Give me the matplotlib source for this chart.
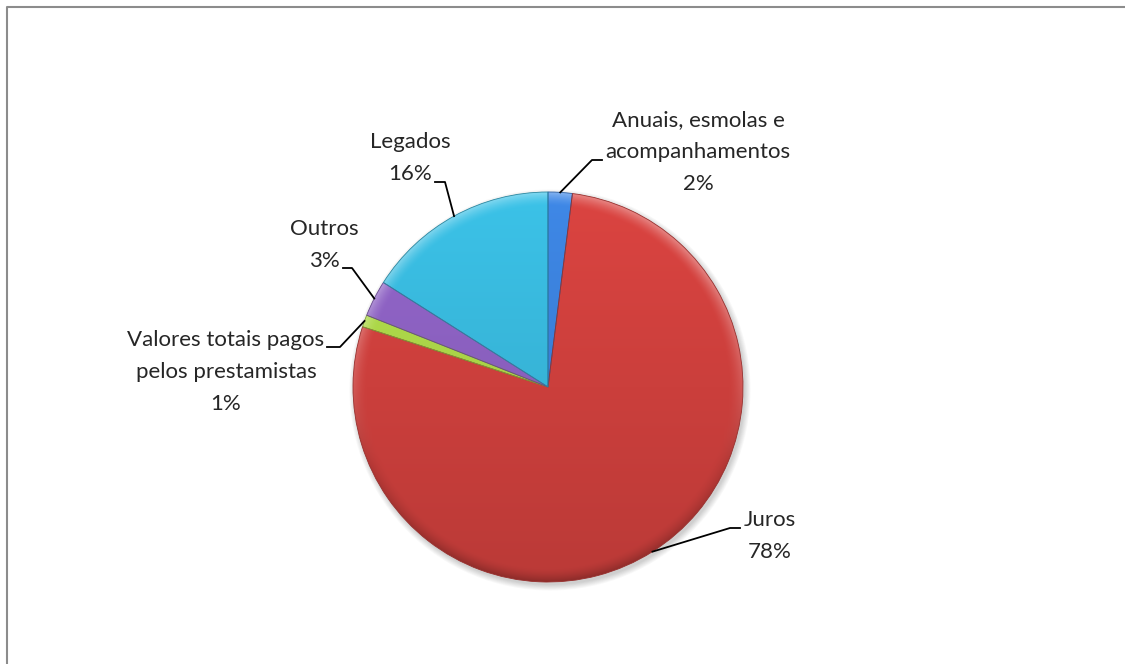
import numpy as np
import matplotlib.pyplot as plt
from matplotlib.colors import to_rgb
from matplotlib.patches import Circle
from matplotlib.lines import Line2D

plt.rcParams['font.family'] = ['Lato', 'DejaVu Sans']

# Dados
categorias = ['Anuais, esmolas e\nacompanhamentos', 'Juros',
              'Valores totais pagos\npelos prestamistas', 'Outros', 'Legados']
percentagens = [2, 78, 1, 3, 16]
cores = ['#3A7ED6', '#CB3F3C', '#A8D247', '#895FBD', '#37B4D7']

# Posição dos rótulos (px, y a partir do topo): texto, cotovelo e fim da linha
pos_texto = [(698, 152), (770, 536), (226, 372), (324, 245), (410, 158)]
cotovelo = [(592, 160), (730, 528), (340, 347), (352, 268), (445, 182)]
fim_linha = [(602, 160), (740, 528), (327, 347), (343, 268), (435, 182)]

W, H = 1125, 664
cx, cy, r = 548, H - 387, 195

fig = plt.figure(figsize=(W / 100, H / 100), dpi=100)
ax = fig.add_axes([0, 0, 1, 1])

# Sombra suave por baixo do gráfico
for k in range(8):
    ax.add_patch(Circle((cx + 2, cy - 3), r + k * 0.8, color='black',
                        alpha=0.025, lw=0, zorder=0))

wedges, _ = ax.pie(percentagens, colors=cores, startangle=90, counterclock=False,
                   center=(cx, cy), radius=r,
                   wedgeprops=dict(linewidth=0.6, zorder=1))
ax.set_xlim(0, W)
ax.set_ylim(0, H)
ax.axis('off')

# Sombreado em relevo de cada fatia
n = 700
xs = np.linspace(-1, 1, n)
gx, gy = np.meshgrid(xs, xs[::-1])
rr = np.hypot(gx, gy)
fator = 1 + 0.08 * gy
borda = np.clip((rr - 0.93) / 0.07, 0, 1) ** 1.5
claro = borda * 0.35 * np.clip(gy + 0.4, 0, 1)
escuro = borda * 0.25 * np.clip(-gy, 0, 1)

for w, c in zip(wedges, cores):
    base = np.array(to_rgb(c))
    img = np.clip(base[None, None, :] * fator[..., None], 0, 1)
    img = img + (1 - img) * claro[..., None]
    img = img * (1 - escuro[..., None])
    w.set_facecolor('none')
    w.set_edgecolor(tuple(base * 0.75))
    im = ax.imshow(img, extent=[cx - r, cx + r, cy - r, cy + r],
                   interpolation='bilinear', zorder=1)
    im.set_clip_path(w)
    w.set_zorder(2)

# Rótulos e linhas de ligação
for w, cat, p, (tx, ty), (ex, ey), (fx, fy) in zip(
        wedges, categorias, percentagens, pos_texto, cotovelo, fim_linha):
    meio = np.deg2rad((w.theta1 + w.theta2) / 2)
    x0 = cx + r * np.cos(meio)
    y0 = cy + r * np.sin(meio)
    ax.plot([x0, ex, fx], [y0, H - ey, H - fy], color='black', lw=1.3, zorder=3)
    ax.text(tx, H - ty, f'{cat}\n{p}%', ha='center', va='center',
            multialignment='center', fontsize=16, color='#262626',
            linespacing=1.75, zorder=4)

# Moldura
fig.add_artist(Line2D([7 / W, 7 / W, 1], [0, 1 - 7 / H, 1 - 7 / H],
                      color='#8c8c8c', lw=1.5))

fig.savefig('out.png', dpi=100)
